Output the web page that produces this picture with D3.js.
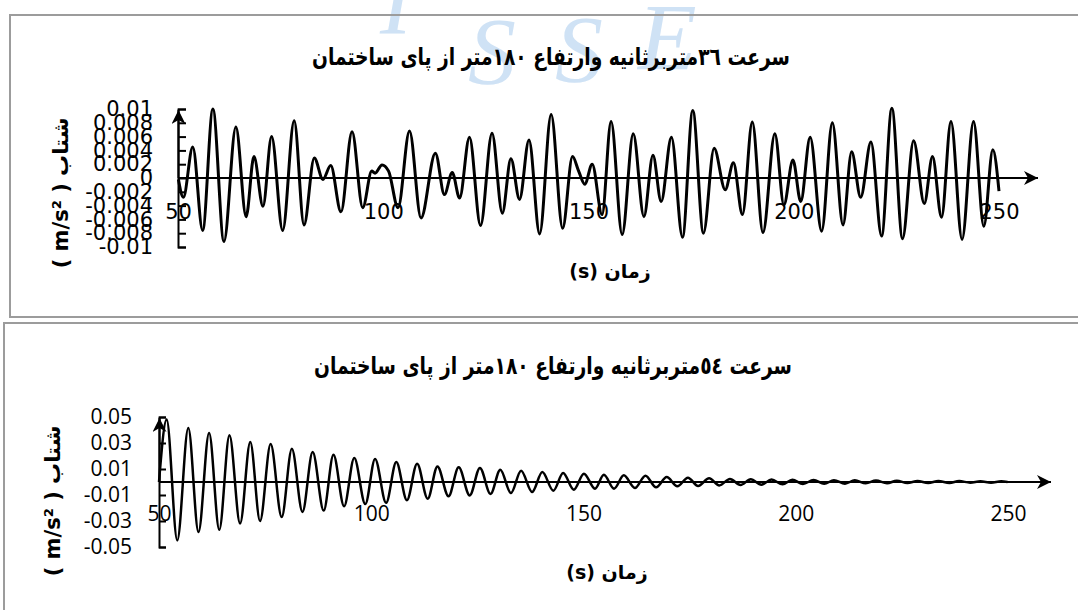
<!DOCTYPE html>
<html>
<head>
<meta charset="utf-8">
<script src="https://cdn.jsdelivr.net/npm/d3@7"></script>
<style>
  body { margin: 0; background: #fff; }
</style>
</head>
<body>
<div id="chart"></div>
<script>
// ---- data (peaks, troughs and a few shoulders) ----
const xTicks = [50, 100, 150, 200, 250];

// top: wind 36 m/s
const topTitle = "سرعت ٣٦متربرثانیه وارتفاع ١٨٠متر از پای ساختمان";
const topYTicks = [-0.01, -0.008, -0.006, -0.004, -0.002, 0, 0.002, 0.004, 0.006, 0.008, 0.01];
const topTime = [50.1, 51.3, 53.6, 56.0, 58.5, 61.2, 64.1, 66.6, 68.5, 70.7, 72.8, 75.5, 78.3, 80.7, 83.2, 85.3,
  87.2, 89.7, 92.4, 95.0, 97.2, 98.0, 99.7, 101.3, 103.6, 106.4, 109.2, 112.7, 114.9, 116.8, 118.6, 121.0,
  123.7, 126.5, 129.0, 131.1, 133.2, 135.5, 138.1, 140.9, 143.7, 146.1, 147.6, 149.1, 150.9, 153.3, 155.5,
  158.2, 160.9, 163.5, 165.7, 167.7, 170.2, 172.9, 175.4, 178.0, 180.6, 183.3, 185.3, 187.5, 189.9, 192.5,
  195.4, 197.6, 199.8, 201.7, 204.0, 206.8, 209.4, 212.0, 214.1, 216.3, 218.8, 221.4, 223.9, 226.5, 229.2,
  231.8, 233.8, 236.0, 238.3, 241.0, 243.8, 246.3, 248.5, 250.0];
const topAccel = [-0.0002, -0.0028, 0.0045, -0.0076, 0.0100, -0.0092, 0.0074, -0.0056, 0.0031, -0.0041, 0.0060,
  -0.0076, 0.0083, -0.0068, 0.0029, -0.0002, 0.0018, -0.0049, 0.0067, -0.0043, 0.0010, 0.0007, 0.0019, 0.0010,
  -0.0043, 0.0068, -0.0058, 0.0036, -0.0024, 0.0008, -0.0029, 0.0059, -0.0069, 0.0065, -0.0051, 0.0028,
  -0.0031, 0.0055, -0.0081, 0.0092, -0.0073, 0.0031, 0.0010, -0.0009, 0.0020, -0.0053, 0.0082, -0.0082,
  0.0064, -0.0056, 0.0033, -0.0034, 0.0059, -0.0086, 0.0098, -0.0080, 0.0043, -0.0017, 0.0022, -0.0053,
  0.0081, -0.0079, 0.0064, -0.0039, 0.0026, -0.0034, 0.0059, -0.0077, 0.0080, -0.0068, 0.0038, -0.0028,
  0.0052, -0.0084, 0.0101, -0.0088, 0.0054, -0.0037, 0.0031, -0.0057, 0.0082, -0.0089, 0.0082, -0.0070,
  0.0041, -0.0019];

// bottom: wind 54 m/s
const bottomTitle = "سرعت ٥٤متربرثانیه وارتفاع ١٨٠متر از پای ساختمان";
const bottomYTicks = [-0.05, -0.03, -0.01, 0.01, 0.03, 0.05];
const bottomTime = [50.0, 51.8, 54.3, 56.9, 59.3, 61.8, 64.2, 66.6, 69.1, 71.5, 73.8, 76.3, 78.9, 81.3, 83.8,
  86.2, 88.8, 91.1, 93.6, 96.0, 98.6, 100.9, 103.5, 105.9, 108.4, 110.8, 113.3, 115.6, 118.2, 120.6, 123.2,
  125.6, 128.1, 130.4, 132.9, 135.3, 137.9, 140.3, 142.9, 145.2, 147.7, 150.1, 152.7, 154.8, 157.2, 159.5,
  162.1, 164.6, 167.1, 169.6, 172.1, 174.6, 177.0, 179.6, 182.0, 184.5, 187.0, 189.4, 191.9, 194.3, 196.9,
  199.2, 201.7, 204.2, 206.7, 209.0, 211.6, 213.9, 216.5, 218.9, 221.5, 223.8, 226.3, 228.7, 231.2, 233.6,
  236.2, 238.5, 241.1, 243.5, 246.0, 248.4, 249.9];
const bottomAccel = [0, 0.048, -0.0449, 0.0415, -0.0385, 0.0377, -0.0367, 0.0359, -0.032, 0.0308, -0.030,
  0.0292, -0.027, 0.0256, -0.023, 0.0231, -0.022, 0.021, -0.0187, 0.0185, -0.017, 0.0177, -0.016, 0.0154,
  -0.014, 0.0141, -0.0128, 0.012, -0.011, 0.0113, -0.0103, 0.0108, -0.0092, 0.0095, -0.0085, 0.0087,
  -0.0077, 0.0077, -0.0067, 0.0069, -0.0059, 0.0064, -0.0051, 0.0056, -0.0051, 0.0051, -0.0046, 0.0049,
  -0.0041, 0.0038, -0.0033, 0.0033, -0.0031, 0.0028, -0.0026, 0.0023, -0.0023, 0.0021, -0.0021, 0.0019,
  -0.0018, 0.0017, -0.0015, 0.0015, -0.0014, 0.0014, -0.0013, 0.0013, -0.0010, 0.0011, -0.0010, 0.0010,
  -0.0008, 0.0008, -0.0008, 0.0007, -0.0007, 0.0007, -0.0005, 0.0005, -0.0005, 0.0005, 0];

const yLabel = "( m/s² ) شتاب";
const xLabel = "(s) زمان";
const watermark = ["I", "S", "S", "E"];

// ---- canvas ----
const svg = d3.select('#chart')
    .append('svg')
    .attr('width', 1078)
    .attr('height', 610)
    .style('display', 'block');

svg.append('rect').attr('width', 1078).attr('height', 610).attr('fill', '#fff');

// arrow head used on the axis ends
svg.append('defs').append('marker')
    .attr('id', 'arrow')
    .attr('markerUnits', 'userSpaceOnUse')
    .attr('viewBox', '0 0 14 14')
    .attr('markerWidth', 14)
    .attr('markerHeight', 14)
    .attr('refX', 14)
    .attr('refY', 7)
    .attr('orient', 'auto')
    .append('path')
    .attr('d', 'M0,0 L14,7 L0,14 L4,7 Z')
    .attr('fill', '#000');

// faint watermark behind the top chart
const wmPos = [[380, 34], [468, 84], [555, 82], [638, 70]];
svg.append('g')
    .selectAll('text')
    .data(watermark)
    .enter()
    .append('text')
    .attr('x', (d, i) => wmPos[i][0])
    .attr('y', (d, i) => wmPos[i][1])
    .attr('font-family', 'Liberation Serif')
    .attr('font-style', 'italic')
    .attr('font-size', 96)
    .attr('fill', '#cfe2f5')
    .text(d => d);

// panel frames
svg.append('rect')
    .attr('x', 10).attr('y', 15).attr('width', 1100).attr('height', 302)
    .attr('fill', 'none').attr('stroke', '#9c9c9c').attr('stroke-width', 2);
svg.append('rect')
    .attr('x', 4).attr('y', 323).attr('width', 1100).attr('height', 320)
    .attr('fill', 'none').attr('stroke', '#9c9c9c').attr('stroke-width', 2);

function drawChart(c) {
    const g = svg.append('g');
    const xScale = d3.scaleLinear().domain([50, 250]).range(c.xRange);
    const yScale = d3.scaleLinear().domain(c.yDomain).range(c.yRange);
    const data = c.time.map((t, i) => ({t: t, v: c.accel[i]}));
    const x0 = xScale(50), y0 = yScale(0);

    // title
    g.append('text')
        .attr('x', c.titlePos[0])
        .attr('y', c.titlePos[1])
        .attr('direction', 'rtl')
        .attr('text-anchor', 'middle')
        .attr('font-family', 'DejaVu Sans')
        .attr('font-weight', 'bold')
        .attr('font-size', 24)
        .attr('textLength', c.titleWidth)
        .attr('lengthAdjust', 'spacingAndGlyphs')
        .text(c.title);

    // y label
    g.append('text')
        .attr('transform', `translate(${c.yLabelPos[0]},${c.yLabelPos[1]}) rotate(-90)`)
        .attr('text-anchor', 'middle')
        .attr('dominant-baseline', 'central')
        .attr('font-family', 'DejaVu Sans')
        .attr('font-weight', 'bold')
        .attr('font-size', 21)
        .text(yLabel);

    // x label
    g.append('text')
        .attr('x', c.xLabelPos[0])
        .attr('y', c.xLabelPos[1])
        .attr('text-anchor', 'middle')
        .attr('dominant-baseline', 'central')
        .attr('font-family', 'DejaVu Sans')
        .attr('font-weight', 'bold')
        .attr('font-size', 19)
        .text(xLabel);

    // x tick labels (axis line drawn separately with an arrow)
    const xAxis = g.append('g')
        .attr('transform', `translate(0,${y0})`)
        .call(d3.axisBottom(xScale).tickValues(xTicks).tickSize(0).tickPadding(c.xPad));
    xAxis.select('.domain').remove();
    xAxis.selectAll('text')
        .attr('font-family', c.tickFont)
        .attr('font-size', c.tickSize)
        .attr('fill', '#000');

    // y axis with inside ticks
    const yAxis = g.append('g')
        .attr('transform', `translate(${x0},0)`)
        .call(d3.axisLeft(yScale).tickValues(c.yTicks)
            .tickSizeInner(-c.tickLen).tickSizeOuter(-c.tickLen)
            .tickPadding(c.yPad).tickFormat(d => String(d)));
    yAxis.selectAll('path, line').attr('stroke', '#000').attr('stroke-width', 2);
    yAxis.selectAll('text')
        .attr('font-family', c.tickFont)
        .attr('font-size', c.tickSize)
        .attr('fill', '#000');

    // curve
    g.append('path')
        .datum(data)
        .attr('fill', 'none')
        .attr('stroke', '#000')
        .attr('stroke-width', c.lineWidth)
        .attr('stroke-linejoin', 'round')
        .attr('d', d3.line()
            .x(d => xScale(d.t))
            .y(d => yScale(d.v))
            .curve(d3.curveMonotoneX));

    // axis lines with arrows
    g.append('line')
        .attr('x1', x0).attr('y1', y0)
        .attr('x2', c.xArrowEnd).attr('y2', y0)
        .attr('stroke', '#000').attr('stroke-width', 2)
        .attr('marker-end', 'url(#arrow)');
    g.append('line')
        .attr('x1', x0 + 0.5).attr('y1', y0)
        .attr('x2', x0 + 0.5).attr('y2', yScale.range()[1] + 1)
        .attr('stroke', '#000').attr('stroke-width', 2)
        .attr('marker-end', 'url(#arrow)');
}

drawChart({
    title: topTitle, titlePos: [551, 65], titleWidth: 478,
    yLabelPos: [61, 193], xLabelPos: [610, 271],
    xRange: [178, 999], yDomain: [-0.01, 0.01], yRange: [247, 109],
    yTicks: topYTicks, time: topTime, accel: topAccel,
    tickFont: 'DejaVu Sans', tickSize: 21, tickLen: 8, xPad: 26, yPad: 25,
    lineWidth: 3, xArrowEnd: 1038
});

drawChart({
    title: bottomTitle, titlePos: [553, 374], titleWidth: 478,
    yLabelPos: [53, 501], xLabelPos: [607, 572],
    xRange: [159, 1008], yDomain: [-0.05, 0.05], yRange: [547, 417],
    yTicks: bottomYTicks, time: bottomTime, accel: bottomAccel,
    tickFont: 'Open Sans', tickSize: 21, tickLen: 7, xPad: 24, yPad: 27,
    lineWidth: 2.5, xArrowEnd: 1051
});
</script>
</body>
</html>
